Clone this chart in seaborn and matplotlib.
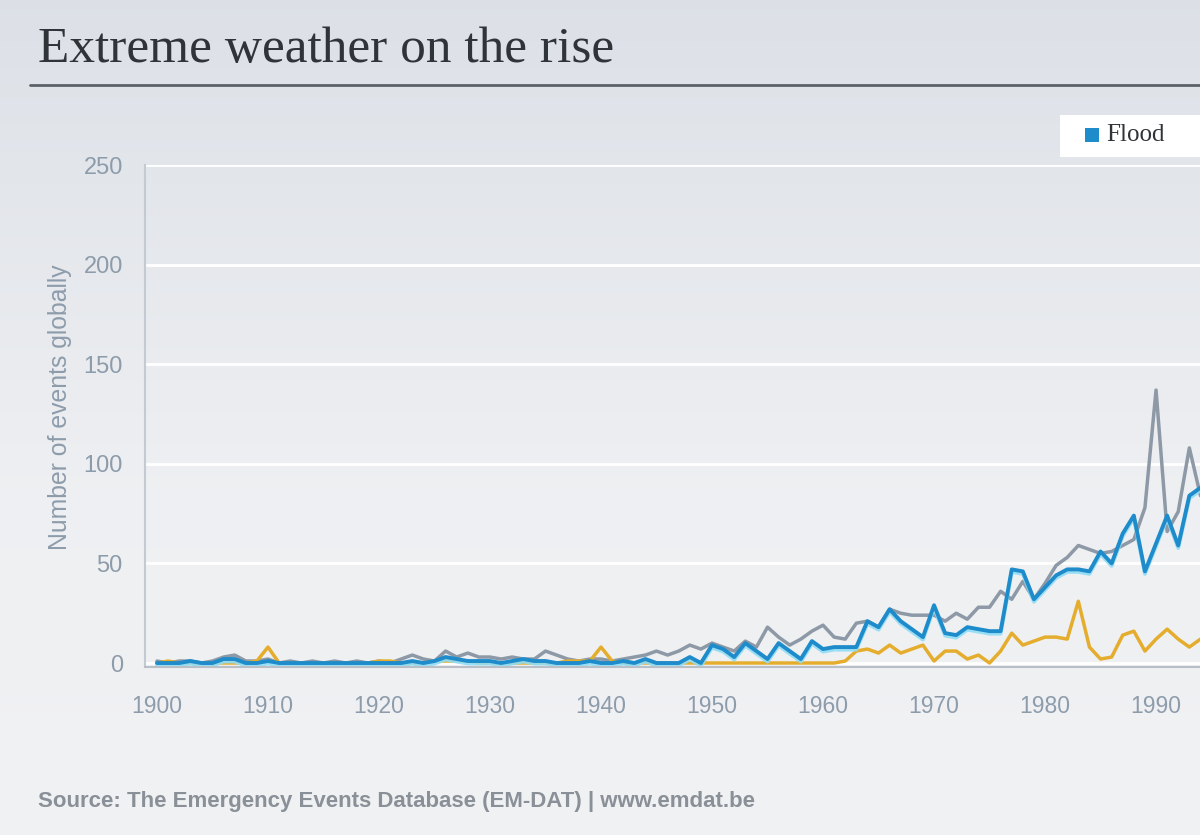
import matplotlib
matplotlib.use("Agg")
import matplotlib.pyplot as plt
import matplotlib.patheffects as pe
from matplotlib.patches import Rectangle
from matplotlib.ticker import MultipleLocator
import numpy as np
import pandas as pd
import seaborn as sns

# Dados (numero de eventos por ano)
years = list(range(1900, 1995))

flood = [0, 0, 0, 1, 0, 0, 2, 2, 0, 0,
         1, 0, 0, 0, 0, 0, 0, 0, 0, 0,
         0, 0, 0, 1, 0, 1, 3, 2, 1, 1,
         1, 0, 1, 2, 1, 1, 0, 0, 0, 1,
         0, 0, 1, 0, 2, 0, 0, 0, 3, 0,
         9, 7, 3, 10, 6, 2, 10, 6, 2, 11,
         7, 8, 8, 8, 21, 18, 27, 21, 17, 13,
         29, 15, 14, 18, 17, 16, 16, 47, 46, 32,
         38, 44, 47, 47, 46, 56, 50, 65, 74, 46,
         60, 74, 59, 84, 88]

storm = [1, 0, 1, 1, 0, 1, 3, 4, 1, 1,
         2, 0, 1, 0, 1, 0, 1, 0, 1, 0,
         1, 0, 2, 4, 2, 1, 6, 3, 5, 3,
         3, 2, 3, 2, 2, 6, 4, 2, 1, 2,
         2, 1, 2, 3, 4, 6, 4, 6, 9, 7,
         10, 8, 6, 11, 8, 18, 13, 9, 12, 16,
         19, 13, 12, 20, 21, 18, 27, 25, 24, 24,
         24, 21, 25, 22, 28, 28, 36, 32, 41, 32,
         40, 49, 53, 59, 57, 55, 56, 59, 62, 78,
         137, 66, 76, 108, 84]

drought = [0, 1, 0, 0, 0, 0, 0, 0, 0, 1,
           8, 0, 0, 0, 0, 0, 0, 0, 0, 0,
           1, 1, 0, 0, 0, 1, 1, 1, 1, 0,
           0, 0, 0, 0, 0, 0, 0, 1, 1, 1,
           8, 1, 0, 0, 0, 0, 0, 0, 0, 0,
           0, 0, 0, 0, 0, 0, 0, 0, 0, 0,
           0, 0, 1, 6, 7, 5, 9, 5, 7, 9,
           1, 6, 6, 2, 4, 0, 6, 15, 9, 11,
           13, 13, 12, 31, 8, 2, 3, 14, 16, 6,
           12, 17, 12, 8, 12]

series_order = ["Storm", "Drought", "Flood"]
colors = {"Storm": "#8d99a6", "Drought": "#e5ad2d", "Flood": "#1e8bcb"}

df = pd.DataFrame({
    "year": years * 3,
    "events": storm + drought + flood,
    "type": ["Storm"] * len(years) + ["Drought"] * len(years) + ["Flood"] * len(years),
})

sns.set_style("white")
plt.rcParams["font.family"] = ["Liberation Sans", "DejaVu Sans"]

W, H = 1200, 835
fig = plt.figure(figsize=(W / 100, H / 100), dpi=100)

# Fundo em degrade vertical
bg = fig.add_axes([0, 0, 1, 1], zorder=-10)
grad = np.linspace(0, 1, 256).reshape(-1, 1)
top = np.array([0.865, 0.880, 0.905])
mid = np.array([0.935, 0.940, 0.950])
bot = np.array([0.945, 0.948, 0.955])
img = np.where(grad[..., None] < 0.6,
               top + (mid - top) * (grad[..., None] / 0.6),
               mid + (bot - mid) * ((grad[..., None] - 0.6) / 0.4))
bg.imshow(img, aspect="auto", extent=[0, 1, 0, 1])
bg.axis("off")

# Eixo principal
ax = fig.add_axes([145 / W, 1 - 667 / H, 1 - 145 / W, 502 / H])
ax.set_facecolor("none")

sns.lineplot(data=df, x="year", y="events", hue="type", hue_order=series_order,
             palette=colors, legend=False, ax=ax, linewidth=2.5)

for line in ax.lines:
    line.set_solid_joinstyle("round")
ax.lines[2].set_linewidth(2.8)
ax.lines[2].set_path_effects([pe.SimpleLineShadow(offset=(0, -1.8), shadow_color="#8fdcf5",
                                                  alpha=0.9, linewidth=2.8),
                              pe.Normal()])

ax.set_xlim(1898.92, 1993.96)
ax.set_ylim(-2, 250)

ax.set_yticks([0, 50, 100, 150, 200, 250])
ax.yaxis.grid(True, color="white", linewidth=2)
ax.set_axisbelow(True)
ax.set_xticks(list(range(1900, 1991, 10)))
ax.xaxis.set_minor_locator(MultipleLocator(1))
ax.xaxis.remove_overlapping_locs = False

label_color = "#8d9cab"
tick_color = "#b8bfc7"
ax.tick_params(axis="y", length=0, pad=16, labelsize=17, labelcolor=label_color)
ax.tick_params(axis="x", which="major", direction="out", length=10, width=1.4,
               color=tick_color, pad=10, labelsize=16.5, labelcolor=label_color)
ax.tick_params(axis="x", which="minor", direction="in", length=7, width=1.2,
               color=tick_color)

for side in ["top", "right"]:
    ax.spines[side].set_visible(False)
ax.spines["left"].set_color("#c4cad1")
ax.spines["left"].set_linewidth(1.5)
ax.spines["bottom"].set_color(tick_color)
ax.spines["bottom"].set_linewidth(1.5)

ax.set_xlabel("")
ax.set_ylabel("Number of events globally", fontsize=17.8, color=label_color)
ax.yaxis.set_label_coords(-0.0692, 0.518)

# Titulo e linha abaixo
fig.text(38 / W, 1 - 50 / H, "Extreme weather on the rise", family="Liberation Serif",
         fontsize=37, color="#2f3439", va="center", ha="left")
fig.add_artist(plt.Line2D([30 / W, 1], [1 - 85 / H, 1 - 85 / H], color="#5b6168",
                          linewidth=2, transform=fig.transFigure))

# Legenda (cortada na borda direita)
fig.add_artist(Rectangle((1060 / W, 1 - 157 / H), 140 / W, 42 / H, transform=fig.transFigure,
                         facecolor="white", edgecolor="none"))
fig.add_artist(Rectangle((1085 / W, 1 - 142 / H), 14 / W, 14 / H, transform=fig.transFigure,
                         facecolor=colors["Flood"], edgecolor="none"))
fig.text(1106 / W, 1 - 135 / H, "Flood", family="Liberation Serif", fontsize=18,
         color="#2f3439", va="center", ha="left")

# Fonte
fig.text(38 / W, 1 - 802 / H, "Source: The Emergency Events Database (EM-DAT) | www.emdat.be",
         fontsize=16, fontweight="bold", color="#8a9097", va="center", ha="left")

fig.savefig("out.png", dpi=100)
